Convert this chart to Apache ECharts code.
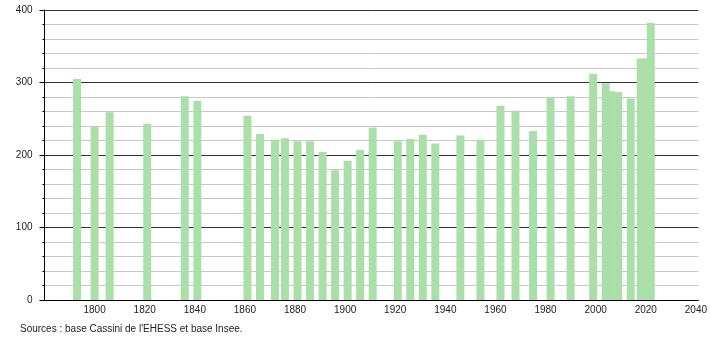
<!DOCTYPE html>
<html><head><meta charset="utf-8">
<script src="https://cdn.jsdelivr.net/npm/echarts@6/dist/echarts.min.js"></script>
<style>html,body{margin:0;padding:0;background:#fff}#c{width:710px;height:340px}</style>
</head><body><div id="c"></div>
<script>
const years = [1793,1800,1806,1821,1836,1841,1861,1866,1872,1876,1881,1886,1891,1896,1901,1906,1911,1921,1926,1931,1936,1946,1954,1962,1968,1975,1982,1990,1999,2004,2006,2009,2014,2018,2020,2022];
const population = [305,240,259,243,281,275,254,229,221,223,219,219,204,179,192,207,238,219,222,228,216,227,221,268,261,233,279,281,312,299,288,287,278,333,333,382];
const yTickLabels = [0,100,200,300,400];
const xTickLabels = [1800,1820,1840,1860,1880,1900,1920,1940,1960,1980,2000,2020,2040];
const sourceText = "Sources : base Cassini de l'EHESS et base Insee.";

const FONT = "'Liberation Sans Narrow', 'Liberation Sans', Arial, sans-serif";
const chart = echarts.init(document.getElementById('c'), null, {renderer: 'canvas'});
chart.setOption({
  animation: false,
  backgroundColor: '#ffffff',
  grid: {left: 44.5, top: 10, width: 655.5, height: 290, containLabel: false},
  xAxis: {
    type: 'value', min: 1780, max: 2041, interval: 20,
    axisLine: {show: true, onZero: false, lineStyle: {color: '#000', width: 1}},
    axisTick: {show: false},
    splitLine: {show: false},
    axisLabel: {
      margin: 5, fontSize: 10, color: '#222', fontFamily: FONT,
      formatter: v => xTickLabels.indexOf(v) >= 0 ? String(v) : ''
    }
  },
  yAxis: {
    type: 'value', min: 0, max: 400, interval: 100,
    axisLine: {show: true, lineStyle: {color: '#000', width: 1}},
    axisTick: {show: true, length: 5, lineStyle: {color: '#000'}},
    minorTick: {show: true, splitNumber: 5, length: 2, lineStyle: {color: '#000'}},
    splitLine: {show: true, lineStyle: {color: '#333', width: 1}},
    minorSplitLine: {show: true, lineStyle: {color: '#c8c8c8', width: 1}},
    axisLabel: {
      margin: 12, fontSize: 10, color: '#222', fontFamily: FONT,
      formatter: v => yTickLabels.indexOf(v) >= 0 ? String(v) : ''
    }
  },
  series: [{
    type: 'bar',
    barWidth: 8,
    data: years.map((y, i) => [y, population[i]]),
    itemStyle: {color: '#aadfaa'}
  }],
  graphic: [{
    type: 'text', left: 20, top: 324,
    style: {text: sourceText, fontSize: 10, fontFamily: FONT, fill: '#222'}
  }]
});
</script></body></html>
